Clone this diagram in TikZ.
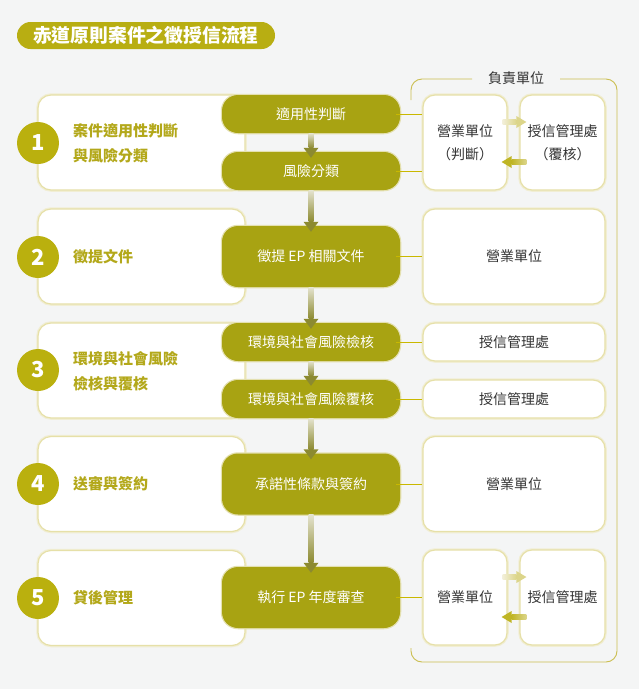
\documentclass[tikz,border=0pt]{standalone}
\usepackage{fontspec}
\setmainfont{Noto Sans CJK TC}
\usetikzlibrary{calc}
\definecolor{bgc}{HTML}{F4F5F5}
\definecolor{titlec}{HTML}{B8AE12}
\definecolor{circc}{HTML}{BAB00E}
\definecolor{labelc}{HTML}{B3A81A}
\definecolor{pillc}{HTML}{A8A312}
\definecolor{arrowc}{HTML}{8C8A30}
\definecolor{shaftlight}{HTML}{E4E3CF}
\definecolor{connc}{HTML}{C9B800}
\definecolor{glowc}{HTML}{E6E0A8}
\definecolor{glowsoft}{HTML}{F1EED4}
\definecolor{pillglow}{HTML}{E4E0B0}
\definecolor{bracketc}{HTML}{CBBE50}
\definecolor{darktext}{HTML}{333333}
\definecolor{lightarr}{HTML}{DCD58A}
\definecolor{lightfade}{HTML}{F2EFD8}
\definecolor{darkarr}{HTML}{BFB524}
\newcommand\pillarrow[2]{%
  \shade[top color=shaftlight, middle color=arrowc, bottom color=arrowc]
    ($(#1.south)+(-2.5,0)$) rectangle ($(#2.north)+(2.5,-4)$);
  \fill[arrowc] ($(#2.north)+(-7.5,-4)$) -- ($(#2.north)+(7.5,-4)$) -- ($(#2.north)+(0,6)$) -- cycle;}
\newcommand\swaparrows[2]{%
  \shade[left color=lightfade, right color=lightarr]
    ($(#1.east)+(-5,-23)$) rectangle ($(#2.west)+(-3,-18)$);
  \fill[lightarr] ($(#2.west)+(-3,-26.5)$) -- ($(#2.west)+(-3,-14.5)$) -- ($(#2.west)+(7,-20.5)$) -- cycle;
  \shade[left color=darkarr, right color=lightarr]
    ($(#1.east)+(4,17)$) rectangle ($(#2.west)+(7,22)$);
  \fill[darkarr] ($(#1.east)+(4,13.5)$) -- ($(#1.east)+(4,25.5)$) -- ($(#1.east)+(-6,19.5)$) -- cycle;}
\begin{document}
\begin{tikzpicture}[x=1pt,y=-1pt,
  stepbox/.style={draw=glowc, line width=1.2pt, fill=white, rounded corners=13pt,
    minimum width=207pt, minimum height=95pt, inner sep=0pt,
    preaction={draw=glowsoft, line width=3.5pt}},
  rbox/.style={draw=glowc, line width=1.2pt, fill=white, rounded corners=12pt,
    inner sep=0pt, text=darktext, font=\fontsize{14}{23}\selectfont, align=center,
    preaction={draw=glowsoft, line width=3.5pt}},
  pill/.style={fill=pillc, rounded corners=16pt, minimum width=178pt, inner sep=0pt,
    text=white, font=\fontsize{14}{16}\selectfont,
    preaction={draw=pillglow, line width=2.5pt}},
  numc/.style={circle, fill=circc, minimum size=42pt, inner sep=0pt, text=white,
    font=\fontsize{22}{22}\selectfont\bfseries},
  steplabel/.style={anchor=west, text=labelc, align=left, inner sep=0pt,
    font=\fontsize{15}{25}\selectfont\bfseries},
  conn/.style={draw=connc, line width=0.9pt},
  bracket/.style={draw=bracketc, line width=0.9pt, rounded corners=11pt}
]
\fill[bgc] (0,0) rectangle (639,689);
\useasboundingbox (0,0) rectangle (639,689);

% title
\node[fill=titlec, rounded corners=13.5pt, minimum width=258pt, minimum height=27pt,
  inner sep=0pt, text=white, font=\fontsize{18.8}{18.8}\selectfont\bfseries] (title) at (146,35.5)
  {赤道原則案件之徵授信流程};

% bracket of responsible units
\draw[bracket] (411,100) -- (411,79) -- (472,79);
\draw[bracket] (560,79) -- (617,79) -- (617,662) -- (411,662) -- (411,648);
\node[text=darktext, font=\fontsize{14}{16}\selectfont, inner sep=0pt] (resp) at (516,78) {負責單位};

% left step boxes
\node[stepbox] (s1) at (141.5,142.5) {};
\node[stepbox] (s2) at (141.5,256.5) {};
\node[stepbox] (s3) at (141.5,370.5) {};
\node[stepbox] (s4) at (141.5,484) {};
\node[stepbox] (s5) at (141.5,598) {};

\node[numc] (n1) at (38,143) {1};
\node[numc] (n2) at (38,257) {2};
\node[numc] (n3) at (38,370) {3};
\node[numc] (n4) at (38,484) {4};
\node[numc] (n5) at (38,598) {5};

\node[steplabel] (l1) at (73,143.5) {案件適用性判斷\\與風險分類};
\node[steplabel] (l2) at (73,257) {徵提文件};
\node[steplabel] (l3) at (73,371) {環境與社會風險\\檢核與覆核};
\node[steplabel] (l4) at (73,484) {送審與簽約};
\node[steplabel] (l5) at (73,598) {貸後管理};

% right boxes
\node[rbox, minimum width=84pt, minimum height=95pt] (r1a) at (465,142.5) {營業單位\\（判斷）};
\node[rbox, minimum width=85pt, minimum height=95pt] (r1b) at (562.5,142.5) {授信管理處\\（覆核）};
\node[rbox, minimum width=182pt, minimum height=95pt] (r2) at (514,256.5) {營業單位};
\node[rbox, minimum width=182pt, minimum height=38pt] (r3a) at (514,342) {授信管理處};
\node[rbox, minimum width=182pt, minimum height=38pt] (r3b) at (514,399) {授信管理處};
\node[rbox, minimum width=182pt, minimum height=95pt] (r4) at (514,484) {營業單位};
\node[rbox, minimum width=84pt, minimum height=95pt] (r5a) at (465,597.5) {營業單位};
\node[rbox, minimum width=85pt, minimum height=95pt] (r5b) at (562.5,597.5) {授信管理處};

% center pills
\node[pill, minimum height=38pt] (p1) at (311,114) {適用性判斷};
\node[pill, minimum height=38pt] (p2) at (311,171) {風險分類};
\node[pill, minimum height=61pt] (p3) at (311,256.5) {徵提 EP 相關文件};
\node[pill, minimum height=38pt] (p4) at (311,342) {環境與社會風險檢核};
\node[pill, minimum height=38pt] (p5) at (311,399) {環境與社會風險覆核};
\node[pill, minimum height=61pt] (p6) at (311,484) {承諾性條款與簽約};
\node[pill, minimum height=61pt] (p7) at (311,597.5) {執行 EP 年度審查};

% connectors to responsible units
\draw[conn] ($(p1.east)+(-4,0)$) -- (p1.east -| r1a.west);
\draw[conn] ($(p2.east)+(-4,0)$) -- (p2.east -| r1a.west);
\draw[conn] ($(p3.east)+(-4,0)$) -- (r2.west);
\draw[conn] ($(p4.east)+(-4,0)$) -- (r3a.west);
\draw[conn] ($(p5.east)+(-4,0)$) -- (r3b.west);
\draw[conn] ($(p6.east)+(-4,0)$) -- (r4.west);
\draw[conn] ($(p7.east)+(-4,0)$) -- (r5a.west);

% flow arrows
\pillarrow{p1}{p2}
\pillarrow{p2}{p3}
\pillarrow{p3}{p4}
\pillarrow{p4}{p5}
\pillarrow{p5}{p6}
\pillarrow{p6}{p7}

% exchange arrows between units
\swaparrows{r1a}{r1b}
\swaparrows{r5a}{r5b}
\end{tikzpicture}
\end{document}
